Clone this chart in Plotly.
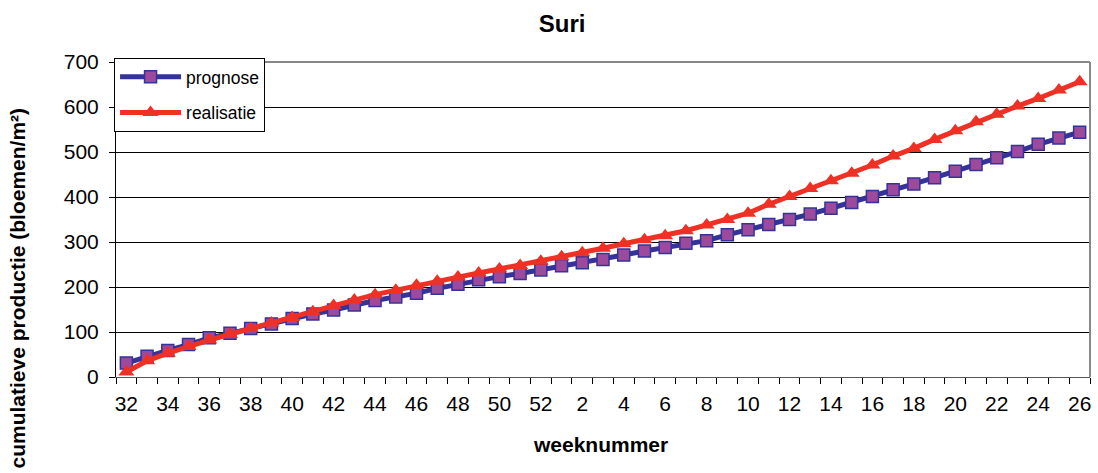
import plotly.graph_objects as go

weeks = [32, 33, 34, 35, 36, 37, 38, 39, 40, 41, 42, 43, 44, 45, 46, 47, 48, 49, 50, 51, 52,
         1, 2, 3, 4, 5, 6, 7, 8, 9, 10, 11, 12, 13, 14, 15, 16, 17, 18, 19, 20, 21, 22, 23, 24, 25, 26]

prognose = [31, 46, 59, 72, 87, 97, 108, 118, 130, 140, 149, 160, 170, 178, 186, 197, 206, 216, 223, 230, 238,
            247, 254, 261, 271, 280, 288, 297, 303, 316, 327, 339, 350, 362, 375, 388, 401, 416, 429, 443,
            457, 472, 487, 501, 517, 531, 544]

realisatie = [11, 36, 53, 68, 82, 95, 108, 120, 132, 145, 159, 171, 183, 193, 204, 213, 222, 231, 240, 248, 257,
              267, 276, 286, 296, 305, 314, 325, 338, 350, 364, 384, 401, 419, 436, 453, 471, 491, 508, 528,
              547, 567, 584, 602, 619, 638, 656]

yticks = [0, 100, 200, 300, 400, 500, 600, 700]

xpos = list(range(len(weeks)))
label_pos = xpos[::2]
label_text = [str(w) for w in weeks[::2]]

FONT = "Liberation Sans, Arial, sans-serif"

fig = go.Figure()
fig.add_trace(go.Scatter(
    x=xpos, y=prognose, name="prognose", mode="lines+markers", legendgroup="a",
    line=dict(color="#333399", width=5),
    marker=dict(symbol="square", size=12, color="#9E4A9C", line=dict(color="#333399", width=1.5)),
))
fig.add_trace(go.Scatter(
    x=xpos, y=realisatie, name="realisatie", mode="lines+markers", legendgroup="b",
    line=dict(color="#EE3124", width=5),
    marker=dict(symbol="triangle-up", size=14, color="#EE3124", line=dict(color="#EE3124", width=0)),
))

fig.update_layout(
    width=1098, height=473,
    margin=dict(l=116, r=8, t=62, b=96),
    paper_bgcolor="white", plot_bgcolor="white",
    font=dict(family=FONT, size=21, color="black"),
    title=dict(text="<b>Suri</b>", x=0.512, xanchor="center", y=0.951, yanchor="middle",
               font=dict(size=24, family=FONT)),
    showlegend=True,
    legend=dict(x=-0.002, y=1.013, xanchor="left", yanchor="top", bgcolor="white",
                bordercolor="black", borderwidth=1, font=dict(size=17.5, family=FONT),
                tracegroupgap=10, traceorder="grouped", itemwidth=61),
    xaxis=dict(
        range=[-0.5, len(weeks) - 0.5],
        tickmode="array", tickvals=label_pos, ticktext=label_text,
        ticks="", showgrid=False, zeroline=False,
        showline=True, linecolor="#555555", linewidth=1,
        tickfont=dict(size=21, family=FONT), ticklabelstandoff=8,
        minor=dict(tickmode="linear", tick0=-0.5, dtick=1, ticks="outside", ticklen=6,
                   tickcolor="black", tickwidth=1, showgrid=False),
    ),
    yaxis=dict(
        range=[0, 700], tickmode="array", tickvals=yticks,
        ticks="outside", ticklen=6, tickcolor="black",
        showgrid=True, gridcolor="black", gridwidth=1, zeroline=False,
        showline=True, linecolor="black", linewidth=1,
        tickfont=dict(size=21, family=FONT), ticklabelstandoff=6,
    ),
    annotations=[
        dict(text="<b>weeknummer</b>", x=0.497, y=0, xref="paper", yref="paper",
             xanchor="center", yanchor="middle", showarrow=False, font=dict(size=21, family=FONT),
             yshift=-67),
        dict(text="<b>cumulatieve productie (bloemen/m²)</b>", x=0, y=0.5, xref="paper", yref="paper",
             textangle=-90, xanchor="center", yanchor="middle", showarrow=False,
             font=dict(size=21, family=FONT), xshift=-99, yshift=-69),
    ],
    shapes=[
        dict(type="line", xref="paper", yref="paper", x0=0, x1=1, y0=1, y1=1,
             line=dict(color="#888888", width=2)),
        dict(type="line", xref="paper", yref="paper", x0=1, x1=1, y0=0, y1=1,
             line=dict(color="#888888", width=2)),
    ],
)

fig.write_html("out.html", config={"displayModeBar": False},
               post_script="document.body.style.margin='0px';")
